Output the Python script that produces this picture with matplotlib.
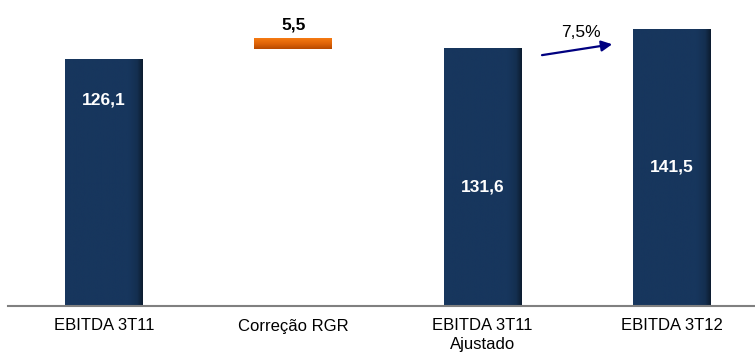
import numpy as np
import matplotlib
matplotlib.use('Agg')
from matplotlib import pyplot as plt
from matplotlib.colors import LinearSegmentedColormap

plt.rcParams['font.family'] = ['Liberation Sans Narrow', 'Liberation Sans', 'DejaVu Sans']

categories = ['EBITDA 3T11', 'Correção RGR', 'EBITDA 3T11\nAjustado', 'EBITDA 3T12']
ebitda_3t11 = 126.1
rgr = 5.5
ebitda_ajust = 131.6
ebitda_3t12 = 141.5
growth_label = '7,5%'

navy = '#17365d'
width = 0.41

fig = plt.figure(figsize=(7.55, 3.63), dpi=100)
ax = fig.add_axes([8 / 755, 57 / 363, 747 / 755, 306 / 363])

# shading only on the right edge of the blue columns
edge = LinearSegmentedColormap.from_list(
    'edge', [(0, navy), (0.82, navy), (0.93, '#142f50'), (1, '#0c1c30')])
grad = np.linspace(0, 1, 128).reshape(1, -1)

def column(x, h):
    ax.bar(x, h, width=width, color=navy, zorder=2)
    ax.imshow(grad, cmap=edge, aspect='auto', zorder=3,
              extent=(x - width / 2, x + width / 2, 0, h))

column(0, ebitda_3t11)
column(2, ebitda_ajust)
column(3, ebitda_3t12)

# orange floating bar for the RGR adjustment
orange = LinearSegmentedColormap.from_list('orange', ['#f57a12', '#e06408', '#b84a00'])
vgrad = np.linspace(0, 1, 32).reshape(-1, 1)
ax.imshow(vgrad, cmap=orange, aspect='auto', zorder=3,
          extent=(1 - width / 2, 1 + width / 2, ebitda_ajust, ebitda_ajust + rgr))

ax.set_xlim(-0.507, 3.44)
ax.set_ylim(0, 156.4)

# value labels
ax.text(0, 105.5, '126,1', color='white', fontsize=12.5, fontweight='bold',
        ha='center', va='center', zorder=5)
ax.text(2, 61, '131,6', color='white', fontsize=12.5, fontweight='bold',
        ha='center', va='center', zorder=5)
ax.text(3, 71, '141,5', color='white', fontsize=12.5, fontweight='bold',
        ha='center', va='center', zorder=5)
ax.text(1, ebitda_ajust + rgr + 2.5, '5,5', color='black', fontsize=12.5,
        fontweight='bold', ha='center', va='bottom', zorder=5)

# growth arrow between the adjusted and current quarter
ax.annotate('', xy=(2.70, 134.0), xytext=(2.30, 128.0),
            arrowprops=dict(arrowstyle='-|>', color='#000080', lw=1.6,
                            mutation_scale=16))
ax.text(2.52, 140.0, growth_label, fontsize=12.5, ha='center', va='center')

ax.set_xticks(range(len(categories)))
ax.set_xticklabels(categories, fontsize=12, va='top', linespacing=1.25)
ax.tick_params(axis='x', length=0, pad=9)
ax.set_yticks([])
for s in ['top', 'right', 'left']:
    ax.spines[s].set_visible(False)
ax.spines['bottom'].set_color('#808080')
ax.spines['bottom'].set_linewidth(1.5)
ax.spines['bottom'].set_zorder(6)

fig.savefig('out.png', dpi=100)
